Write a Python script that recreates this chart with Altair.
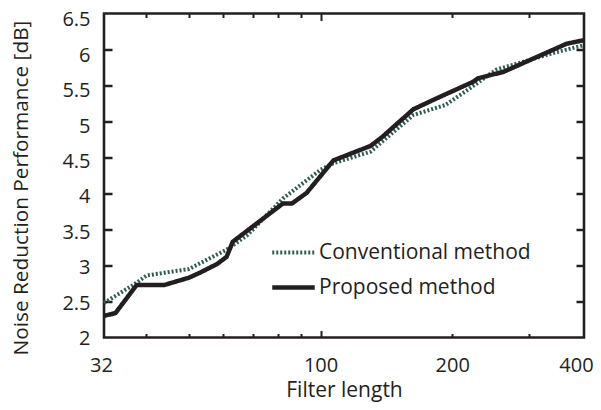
import altair as alt
import pandas as pd

series = ["Conventional method", "Proposed method"]

conv_x = [32, 38, 40, 44, 50, 53, 61, 68, 82, 100, 107, 130, 163, 193, 223, 252, 340, 400]
conv_y = [2.48, 2.76, 2.86, 2.90, 2.95, 3.03, 3.22, 3.42, 3.93, 4.33, 4.42, 4.58, 5.09, 5.23, 5.49, 5.72, 5.95, 6.06]

prop_x = [32, 34, 38, 44, 50, 53, 58, 61, 63, 82, 86, 93, 107, 130, 138, 163, 184, 223, 229, 262, 365, 400]
prop_y = [2.30, 2.34, 2.73, 2.73, 2.83, 2.90, 3.02, 3.12, 3.33, 3.86, 3.86, 4.01, 4.46, 4.66, 4.78, 5.17, 5.32, 5.55, 5.60, 5.69, 6.08, 6.13]

x_labels = [32, 100, 200, 400]
x_minor = [40, 50, 60, 70, 80, 90, 200, 300]
x_major = [100]
y_ticks = [2, 2.5, 3, 3.5, 4, 4.5, 5, 5.5, 6, 6.5]
y_inner = [2.5, 3, 3.5, 4, 4.5, 5, 5.5, 6]

df = pd.concat([
    pd.DataFrame({"x": conv_x, "y": conv_y, "s": series[0]}),
    pd.DataFrame({"x": prop_x, "y": prop_y, "s": series[1]}),
], ignore_index=True)

W, H = 480, 324
FONT = "Open Sans"
INK = "#231f20"
TEAL = "#2f5d54"

xscale = alt.Scale(type="log", domain=[32, 400], nice=False)
yscale = alt.Scale(domain=[2, 6.5], nice=False, zero=False)

legend = alt.Legend(
    title=None, orient="none", legendX=178.5, legendY=228.5,
    symbolType="M-2.5,0H2.5", symbolSize=289, symbolStrokeWidth=4.5,
    labelFont=FONT, labelFontSize=21, labelColor=INK, labelOffset=14.5, labelLimit=0,
    rowPadding=13.5, padding=0,
)

lines = alt.Chart(df).mark_line(strokeCap="butt").encode(
    x=alt.X("x:Q", scale=xscale, axis=alt.Axis(
        values=x_labels, title="Filter length", ticks=False, tickSize=0, domain=False, grid=False,
        labelFont=FONT, labelFontSize=20, labelColor=INK, labelPadding=18, labelFlush=False,
        labelOffset={"condition": {"test": "false", "value": 0},
                     "expr": "datum.value == 400 ? -8 : (datum.value == 32 ? -3 : 0)"},
        titleFont=FONT, titleFontSize=21, titleFontWeight="normal", titleColor=INK, titleY=42)),
    y=alt.Y("y:Q", scale=yscale, axis=alt.Axis(
        values=y_ticks, format="~g", title="Noise Reduction Performance [dB]", ticks=False, tickSize=0,
        domain=False, grid=False, labelFont=FONT, labelFontSize=20, labelColor=INK, labelPadding=14,
        labelOffset={"condition": {"test": "false", "value": 0}, "expr": "(datum.value - 2) * 1.22 + 1"},
        labelFlush=False, titleFont=FONT, titleFontSize=20.8, titleFontWeight="normal", titleColor=INK,
        titleX=-73, titleY=174)),
    color=alt.Color("s:N", scale=alt.Scale(domain=series, range=[TEAL, INK]), legend=legend),
    strokeDash=alt.StrokeDash("s:N", scale=alt.Scale(domain=series, range=[[2, 2], [1, 0]]), legend=legend),
    strokeWidth=alt.StrokeWidth("s:N", scale=alt.Scale(domain=series, range=[4, 4.5]), legend=None),
)


def tick_layer(xvals, xorient, xsize, yvals=None, yorient=None):
    xa = alt.Axis(orient=xorient, offset=-H, values=xvals, labels=False, domain=False, grid=False,
                  title=None, tickSize=xsize, tickWidth=2, tickColor=INK)
    if yvals is not None:
        ya = alt.Axis(orient=yorient, offset=-W, values=yvals, labels=False, domain=False, grid=False,
                      title=None, tickSize=8, tickWidth=2.5, tickColor=INK)
    else:
        ya = None
    return alt.Chart(df).mark_line(opacity=0).encode(
        x=alt.X("x:Q", scale=xscale, axis=xa),
        y=alt.Y("y:Q", scale=yscale, axis=ya),
        detail="s:N",
    )


ticks_b = tick_layer(x_minor, "top", 4, y_inner, "right")
ticks_c = tick_layer(x_minor, "bottom", 4, y_inner, "left")
ticks_d = tick_layer(x_major, "top", 7)
ticks_e = tick_layer(x_major, "bottom", 7)

chart = alt.layer(lines, ticks_b, ticks_c, ticks_d, ticks_e).resolve_axis(
    x="independent", y="independent"
).properties(
    width=W, height=H,
    autosize=alt.AutoSizeParams(type="none"),
    padding={"left": 96, "top": 5.5, "right": 9, "bottom": 64},
    background="white",
).configure_view(stroke=INK, strokeWidth=2.6)

chart.save("out.html", embed_options={"renderer": "svg", "actions": False})
